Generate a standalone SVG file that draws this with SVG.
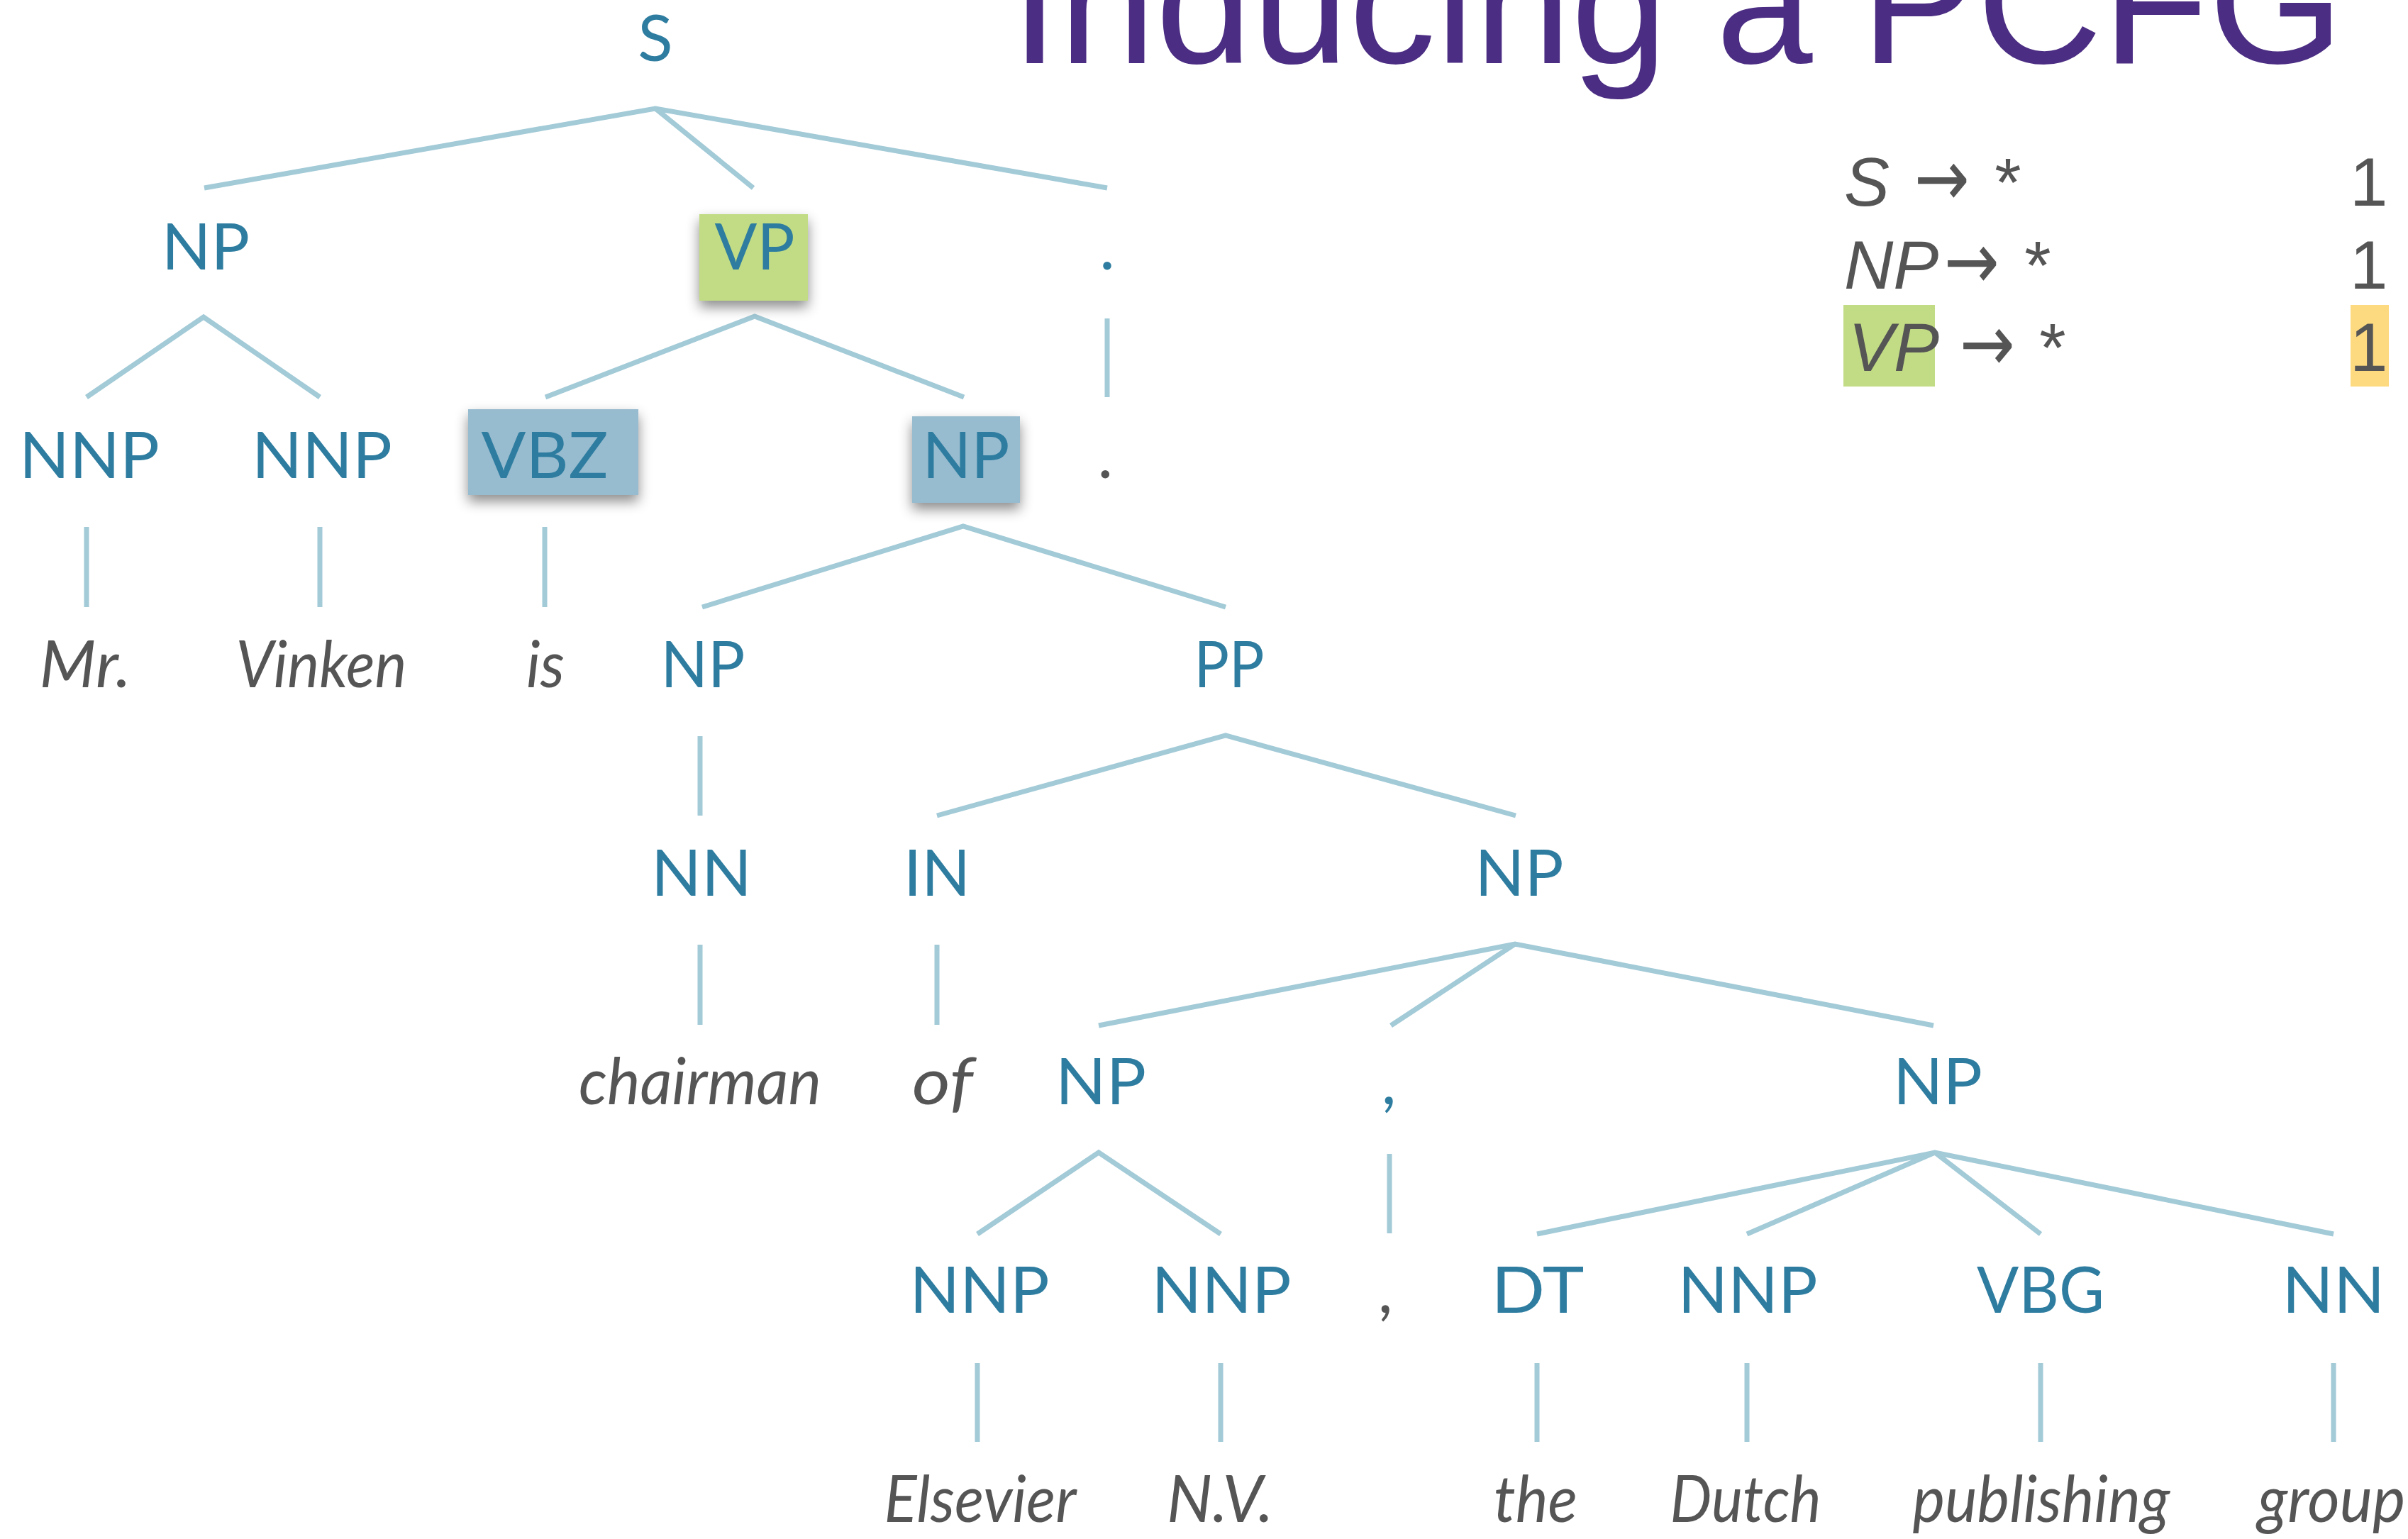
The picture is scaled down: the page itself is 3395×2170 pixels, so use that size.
<svg xmlns="http://www.w3.org/2000/svg" width="3395" height="2170" viewBox="0 0 3395 2170">
  <defs>
    <style>
      .tag { font-family: Lato, "Open Sans", "Liberation Sans", sans-serif; font-size: 91px; fill: #2E7DA0; text-anchor: middle; }
      .word { font-family: Lato, "Open Sans", "Liberation Sans", sans-serif; font-style: italic; font-size: 91px; fill: #555555; text-anchor: middle; }
      .edge { stroke: #A2CAD7; stroke-width: 7; fill: none; stroke-linecap: butt; }
      .title { font-family: "Liberation Sans", Arial, sans-serif; font-size: 245px; fill: #4B2D83; }
      .rule { font-family: "Liberation Sans", Arial, sans-serif; font-size: 96px; fill: #555555; }
      .rule .lhs { font-style: italic; }
      .arrow { font-family: "DejaVu Sans", "Liberation Sans", sans-serif; font-size: 112px; fill: #555555; }
      .box-vp { fill: #C1DC85; }
      .box-pre { fill: #97BBCF; }
    </style>
    <filter id="shadow" x="-30%" y="-30%" width="160%" height="170%">
      <feDropShadow dx="0" dy="9" stdDeviation="9" flood-color="#000000" flood-opacity="0.45"/>
    </filter>
  </defs>

  <rect width="3395" height="2170" fill="#FFFFFF"/>

  <!-- heading, partly above the top edge -->
  <text class="title" x="1425" y="89">Inducing a PCFG</text>

  <!-- rule counts panel -->
  <g id="rules">
    <rect x="2599" y="430" width="129" height="115" fill="#C1DC85"/>
    <rect x="3314" y="430" width="54" height="115" fill="#FDDA80"/>
    <g id="rule-S">
      <text class="rule lhs" x="2600" y="290" font-style="italic">S</text>
      <text class="arrow" x="2699" y="290" textLength="78" lengthAdjust="spacingAndGlyphs">→</text>
      <text class="rule" x="2831" y="290" text-anchor="middle">*</text>
      <text class="rule" x="3313" y="290">1</text>
    </g>
    <g id="rule-NP">
      <text class="rule lhs" x="2600" y="407" font-style="italic">NP</text>
      <text class="arrow" x="2741" y="407" textLength="78" lengthAdjust="spacingAndGlyphs">→</text>
      <text class="rule" x="2873" y="407" text-anchor="middle">*</text>
      <text class="rule" x="3313" y="407">1</text>
    </g>
    <g id="rule-VP">
      <text class="rule lhs" x="2606" y="523" font-style="italic">VP</text>
      <text class="arrow" x="2763" y="523" textLength="78" lengthAdjust="spacingAndGlyphs">→</text>
      <text class="rule" x="2894" y="523" text-anchor="middle">*</text>
      <text class="rule" x="3313" y="523">1</text>
    </g>
  </g>

  <!-- tree edges -->
  <g id="connectors">
    <path class="edge" d="M288,265 L924,153 L1561,265 M924,153 L1062,265"/>
    <path class="edge" d="M122,560 L287,447 L451,560"/>
    <path class="edge" d="M769,560 L1064,446 L1359,560"/>
    <path class="edge" d="M1561,449 V560"/>
    <path class="edge" d="M122,743 V856 M451,743 V856 M768,743 V856"/>
    <path class="edge" d="M990,856 L1358,742 L1728,856"/>
    <path class="edge" d="M987,1038 V1150"/>
    <path class="edge" d="M1321,1150 L1728,1037 L2137,1150"/>
    <path class="edge" d="M987,1332 V1445 M1321,1332 V1445"/>
    <path class="edge" d="M1549,1446 L2136,1331 L2726,1446 M2136,1331 L1961,1446"/>
    <path class="edge" d="M1378,1740 L1549,1625 L1721,1740"/>
    <path class="edge" d="M1959,1627 V1739"/>
    <path class="edge" d="M2167,1740 L2728,1625 L3290,1740 M2728,1625 L2463,1740 M2728,1625 L2877,1740"/>
    <path class="edge" d="M1378,1922 V2033 M1721,1922 V2033 M2167,1922 V2033 M2463,1922 V2033 M2877,1922 V2033 M3290,1922 V2033"/>
  </g>

  <!-- level 0 -->
  <g id="n-S"><text class="tag" x="924" y="86">S</text></g>

  <!-- level 1 -->
  <g id="n-NP1"><text class="tag" x="290" y="380" textLength="124" lengthAdjust="spacingAndGlyphs">NP</text></g>
  <g id="n-VP">
    <rect class="box-vp" x="986" y="302" width="153" height="122" filter="url(#shadow)"/>
    <text class="tag" x="1064" y="380" textLength="113" lengthAdjust="spacingAndGlyphs">VP</text>
  </g>
  <g id="n-dot-tag"><text class="tag" x="1561" y="380">.</text></g>

  <!-- level 2 -->
  <g id="n-NNP1"><text class="tag" x="126" y="674" textLength="198" lengthAdjust="spacingAndGlyphs">NNP</text></g>
  <g id="n-NNP2"><text class="tag" x="454" y="674" textLength="198" lengthAdjust="spacingAndGlyphs">NNP</text></g>
  <g id="n-VBZ">
    <rect class="box-pre" x="660" y="577" width="240" height="121" filter="url(#shadow)"/>
    <text class="tag" x="768" y="674" textLength="179" lengthAdjust="spacingAndGlyphs">VBZ</text>
  </g>
  <g id="n-NP2">
    <rect class="box-pre" x="1286" y="587" width="152" height="122" filter="url(#shadow)"/>
    <text class="tag" x="1362" y="674" textLength="123" lengthAdjust="spacingAndGlyphs">NP</text>
  </g>
  <g id="n-dot-word"><text class="word" x="1561" y="674">.</text></g>

  <!-- level 3 -->
  <g id="w-Mr"><text class="word" x="120" y="969" textLength="129" lengthAdjust="spacingAndGlyphs">Mr.</text></g>
  <g id="w-Vinken"><text class="word" x="453" y="969" textLength="241" lengthAdjust="spacingAndGlyphs">Vinken</text></g>
  <g id="w-is"><text class="word" x="769" y="969" textLength="54" lengthAdjust="spacingAndGlyphs">is</text></g>
  <g id="n-NP3"><text class="tag" x="991" y="969" textLength="119" lengthAdjust="spacingAndGlyphs">NP</text></g>
  <g id="n-PP"><text class="tag" x="1733" y="969" textLength="99" lengthAdjust="spacingAndGlyphs">PP</text></g>

  <!-- level 4 -->
  <g id="n-NN1"><text class="tag" x="989" y="1263" textLength="142" lengthAdjust="spacingAndGlyphs">NN</text></g>
  <g id="n-IN"><text class="tag" x="1321" y="1263" textLength="94" lengthAdjust="spacingAndGlyphs">IN</text></g>
  <g id="n-NP4"><text class="tag" x="2142" y="1263" textLength="125" lengthAdjust="spacingAndGlyphs">NP</text></g>

  <!-- level 5 -->
  <g id="w-chairman"><text class="word" x="987" y="1557" textLength="342" lengthAdjust="spacingAndGlyphs">chairman</text></g>
  <g id="w-of"><text class="word" x="1329" y="1557" textLength="86" lengthAdjust="spacingAndGlyphs">of</text></g>
  <g id="n-NP5a"><text class="tag" x="1552" y="1557" textLength="128" lengthAdjust="spacingAndGlyphs">NP</text></g>
  <g id="n-comma-tag"><text class="tag" x="1958" y="1557">,</text></g>
  <g id="n-NP5b"><text class="tag" x="2732" y="1557" textLength="126" lengthAdjust="spacingAndGlyphs">NP</text></g>

  <!-- level 6 -->
  <g id="n-NNP3"><text class="tag" x="1381" y="1851" textLength="197" lengthAdjust="spacingAndGlyphs">NNP</text></g>
  <g id="n-NNP4"><text class="tag" x="1722" y="1851" textLength="197" lengthAdjust="spacingAndGlyphs">NNP</text></g>
  <g id="n-comma-word"><text class="word" x="1956" y="1851">,</text></g>
  <g id="n-DT"><text class="tag" x="2168" y="1851" textLength="131" lengthAdjust="spacingAndGlyphs">DT</text></g>
  <g id="n-NNP5"><text class="tag" x="2464" y="1851" textLength="197" lengthAdjust="spacingAndGlyphs">NNP</text></g>
  <g id="n-VBG"><text class="tag" x="2877" y="1851" textLength="180" lengthAdjust="spacingAndGlyphs">VBG</text></g>
  <g id="n-NN2"><text class="tag" x="3290" y="1851" textLength="145" lengthAdjust="spacingAndGlyphs">NN</text></g>

  <!-- level 7 -->
  <g id="w-Elsevier"><text class="word" x="1382" y="2146" textLength="271" lengthAdjust="spacingAndGlyphs">Elsevier</text></g>
  <g id="w-NV"><text class="word" x="1720" y="2146" textLength="150" lengthAdjust="spacingAndGlyphs">N.V.</text></g>
  <g id="w-the"><text class="word" x="2165" y="2146" textLength="118" lengthAdjust="spacingAndGlyphs">the</text></g>
  <g id="w-Dutch"><text class="word" x="2461" y="2146" textLength="213" lengthAdjust="spacingAndGlyphs">Dutch</text></g>
  <g id="w-publishing"><text class="word" x="2878" y="2146" textLength="363" lengthAdjust="spacingAndGlyphs">publishing</text></g>
  <g id="w-group"><text class="word" x="3287" y="2146" textLength="208" lengthAdjust="spacingAndGlyphs">group</text></g>
</svg>
